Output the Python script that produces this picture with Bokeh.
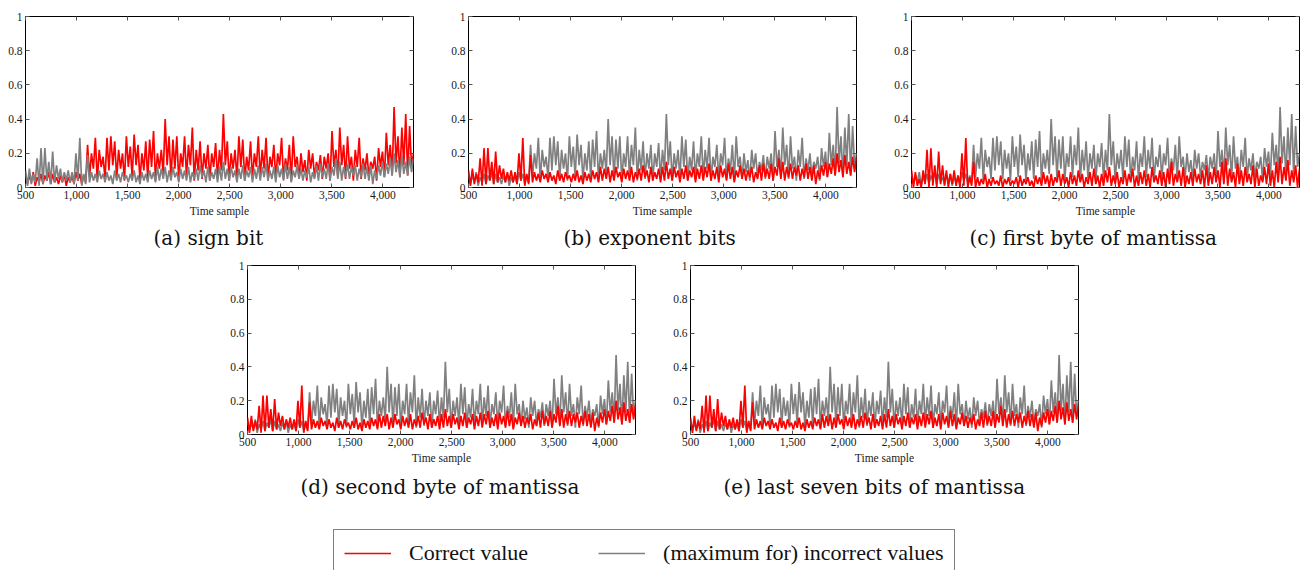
from bokeh.plotting import figure
from bokeh.layouts import column, row
from bokeh.models import (LinearAxis, FixedTicker, NumeralTickFormatter, Title,
                          CustomJSTickFormatter, Legend, LegendItem, Spacer)
from bokeh.embed import file_html
from bokeh.resources import INLINE

# ---------------- data ----------------
# time samples: peak / trough alternate every 19 samples
time_samples = list(range(500, 4301, 19))

# spiky series (max incorrect in b-e, correct value in a) - local peaks
spiky_peaks = [0.08, 0.07, 0.09, 0.06, 0.08, 0.07, 0.09, 0.08, 0.06, 0.07, 0.08, 0.06, 0.07, 0.09, 0.08, 0.07,
               0.25, 0.20, 0.29, 0.22, 0.18, 0.29, 0.30, 0.27, 0.22, 0.20, 0.30, 0.24, 0.31, 0.25, 0.20,
               0.27, 0.28, 0.33, 0.20, 0.22, 0.40, 0.30, 0.28, 0.30, 0.20, 0.30, 0.25, 0.35, 0.22, 0.27,
               0.20, 0.25, 0.20, 0.26, 0.22, 0.43, 0.27, 0.20, 0.22, 0.30, 0.28, 0.18, 0.27, 0.20, 0.30,
               0.22, 0.29, 0.18, 0.25, 0.20, 0.29, 0.17, 0.25, 0.30, 0.18, 0.20, 0.16, 0.22, 0.20, 0.15,
               0.19, 0.18, 0.20, 0.33, 0.22, 0.35, 0.25, 0.30, 0.18, 0.22, 0.29, 0.17, 0.20, 0.15, 0.18,
               0.23, 0.21, 0.32, 0.25, 0.47, 0.30, 0.35, 0.43, 0.36, 0.20]
spiky_troughs = [0.02, 0.03, 0.01, 0.03, 0.02, 0.04, 0.02, 0.03, 0.02, 0.03, 0.01, 0.03, 0.02, 0.04, 0.02, 0.03,
                 0.06, 0.11, 0.04, 0.12, 0.05, 0.10, 0.13, 0.05, 0.11, 0.04, 0.12, 0.06, 0.13, 0.04, 0.10,
                 0.05, 0.12, 0.04, 0.11, 0.08, 0.13, 0.05, 0.11, 0.04, 0.12, 0.06, 0.13, 0.04, 0.10, 0.05,
                 0.11, 0.04, 0.12, 0.05, 0.10, 0.13, 0.04, 0.11, 0.05, 0.12, 0.04, 0.10, 0.05, 0.12, 0.06,
                 0.11, 0.04, 0.12, 0.05, 0.13, 0.05, 0.10, 0.04, 0.12, 0.05, 0.09, 0.04, 0.11, 0.06, 0.10,
                 0.05, 0.11, 0.04, 0.12, 0.06, 0.13, 0.05, 0.11, 0.04, 0.12, 0.05, 0.10, 0.06, 0.11, 0.04,
                 0.12, 0.06, 0.13, 0.07, 0.14, 0.06, 0.13, 0.07, 0.12]

# low series (correct value in b, d, e; max incorrect in a)
low_peaks = [0.10, 0.11, 0.08, 0.17, 0.23, 0.23, 0.15, 0.21, 0.13, 0.11, 0.09, 0.10, 0.09, 0.20, 0.29, 0.08, 0.19,
             0.09, 0.08, 0.10, 0.08, 0.09, 0.07, 0.10, 0.08, 0.09, 0.07, 0.08, 0.10, 0.07, 0.09, 0.08, 0.10, 0.09,
             0.12, 0.11, 0.12, 0.10, 0.12, 0.09, 0.11, 0.10, 0.12, 0.09, 0.11, 0.13, 0.10, 0.12, 0.09, 0.11, 0.12,
             0.15, 0.11, 0.12, 0.10, 0.11, 0.13, 0.10, 0.12, 0.11, 0.13,
             0.12, 0.14, 0.10, 0.12, 0.13, 0.11, 0.14, 0.12, 0.10, 0.13,
             0.11, 0.10, 0.12, 0.09, 0.13, 0.14, 0.11, 0.14, 0.12,
             0.17, 0.15, 0.12, 0.14, 0.12, 0.13, 0.11, 0.14, 0.12, 0.13,
             0.10, 0.13, 0.15, 0.14, 0.17, 0.20, 0.16, 0.19, 0.15, 0.18, 0.17]
low_troughs = [0.01, 0.02, 0.03, 0.01, 0.02, 0.04, 0.02, 0.03, 0.05, 0.03, 0.04, 0.03, 0.02, 0.04, 0.01, 0.02, 0.03,
               0.04, 0.03, 0.05, 0.03, 0.04, 0.02, 0.04, 0.03, 0.05, 0.03, 0.04, 0.03, 0.02, 0.04, 0.03, 0.05, 0.03,
               0.04, 0.05, 0.03, 0.04, 0.06, 0.03, 0.05, 0.04, 0.03, 0.05, 0.04, 0.06, 0.03, 0.04, 0.05, 0.03, 0.04,
               0.05, 0.04, 0.06, 0.03, 0.05, 0.04, 0.06, 0.03, 0.05, 0.04, 0.06, 0.04, 0.05, 0.03, 0.06, 0.04, 0.05,
               0.03, 0.06, 0.05, 0.04, 0.06, 0.03, 0.05, 0.04, 0.06, 0.05, 0.04, 0.07, 0.05, 0.04, 0.06, 0.05, 0.07,
               0.04, 0.06, 0.05, 0.04, 0.02,
               0.05, 0.07, 0.06, 0.08, 0.07, 0.09, 0.06, 0.08, 0.07, 0.09]

# first byte of mantissa: correct value
mant1_peaks = [0.10, 0.09, 0.05, 0.10, 0.22, 0.23, 0.13, 0.21, 0.13, 0.10, 0.08, 0.10, 0.07, 0.20, 0.29, 0.06, 0.15,
               0.06, 0.05, 0.08, 0.05, 0.06, 0.04, 0.07, 0.05, 0.06, 0.04, 0.06, 0.07, 0.05, 0.06, 0.04, 0.07, 0.06,
               0.09, 0.07, 0.08, 0.06, 0.10, 0.08, 0.06, 0.09, 0.07, 0.10, 0.08, 0.06, 0.09, 0.11, 0.07, 0.08, 0.10,
               0.12, 0.07, 0.09, 0.06, 0.10, 0.08, 0.11, 0.07, 0.09, 0.10,
               0.08, 0.12, 0.07, 0.10, 0.09, 0.11, 0.15, 0.08, 0.10, 0.12, 0.07, 0.09, 0.11, 0.08, 0.10,
               0.13, 0.09, 0.12, 0.10, 0.15, 0.17, 0.11, 0.09, 0.14, 0.10, 0.12, 0.08, 0.13, 0.11, 0.07,
               0.12, 0.14, 0.10, 0.15, 0.18, 0.12, 0.16, 0.10, 0.13, 0.11]
mant1_troughs = [0.00, 0.01, 0.00, 0.02, 0.00, 0.01, 0.00, 0.02, 0.01, 0.00, 0.02, 0.01, 0.00, 0.01, 0.00, 0.01, 0.00,
                 0.01, 0.02, 0.00, 0.01, 0.02, 0.01, 0.00, 0.02, 0.01, 0.02, 0.00, 0.01, 0.02, 0.01, 0.00, 0.02, 0.01,
                 0.02, 0.00, 0.01, 0.03, 0.01, 0.02, 0.00, 0.02, 0.01, 0.03, 0.00, 0.02, 0.01, 0.02, 0.00, 0.01, 0.03,
                 0.01, 0.02, 0.00, 0.02, 0.01, 0.03, 0.00, 0.01, 0.02, 0.01, 0.00, 0.03, 0.02, 0.01, 0.00, 0.02, 0.01,
                 0.03, 0.01, 0.00, 0.02, 0.01, 0.03, 0.02, 0.00, 0.01, 0.02, 0.03, 0.00, 0.02, 0.01, 0.03, 0.00, 0.02,
                 0.01, 0.03, 0.02, 0.00, 0.01, 0.03, 0.02, 0.01, 0.00, 0.03, 0.02, 0.04, 0.01, 0.03, 0.00]

captions = ["(a) sign bit", "(b) exponent bits", "(c) first byte of mantissa",
            "(d) second byte of mantissa", "(e) last seven bits of mantissa"]
legend_labels = ["Correct value", "(maximum for) incorrect values"]
x_ticks = [500, 1000, 1500, 2000, 2500, 3000, 3500, 4000]
y_ticks = [0, 0.2, 0.4, 0.6, 0.8, 1]

RED = "#ff0000"
GRAY = "#808080"
TICK_FONT = "Liberation Serif"
DATA_LW = 1.7


def zigzag(peaks, troughs):
    ys = []
    for k in range(len(troughs)):
        ys.append(peaks[k])
        ys.append(troughs[k])
    ys.append(peaks[-1])
    return ys


def style_axis(ax, labels=True):
    ax.axis_line_color = None
    ax.major_tick_in = 4
    ax.major_tick_out = 0
    ax.minor_tick_line_color = None
    ax.major_tick_line_color = "#555555"
    ax.major_tick_line_width = 1
    if labels:
        ax.major_label_text_font = TICK_FONT
        ax.major_label_text_font_size = "11.5px"
        ax.major_label_text_color = "#1a1a1a"
    else:
        ax.major_label_text_font_size = "1px"
        ax.major_label_text_color = None
        ax.major_label_standoff = 0


def panel(width, height, top, bottom, right, correct, wrong, caption, cap_offset, cap_standoff, red_first):
    p = figure(width=width, height=height, x_range=(500, 4300), y_range=(0, 1),
               output_backend="svg", toolbar_location=None,
               min_border_left=25, min_border_right=right,
               min_border_top=top, min_border_bottom=bottom)
    p.xgrid.grid_line_color = None
    p.ygrid.grid_line_color = None
    p.outline_line_color = "black"
    p.outline_line_width = 1
    p.background_fill_color = "white"
    p.border_fill_color = "white"

    xa = p.xaxis[0]
    ya = p.yaxis[0]
    style_axis(xa)
    style_axis(ya)
    xa.ticker = FixedTicker(ticks=x_ticks)
    xa.formatter = NumeralTickFormatter(format="0,0")
    xa.major_label_standoff = 3
    xa.axis_label = "Time sample"
    xa.axis_label_text_font = TICK_FONT
    xa.axis_label_text_font_size = "11.5px"
    xa.axis_label_text_font_style = "normal"
    xa.axis_label_text_color = "#1a1a1a"
    xa.axis_label_standoff = 3
    ya.ticker = FixedTicker(ticks=y_ticks)
    ya.formatter = CustomJSTickFormatter(code="return (tick == 0 || tick == 1) ? tick.toFixed(0) : tick.toFixed(1);")
    ya.major_label_standoff = 3

    ra = LinearAxis(ticker=FixedTicker(ticks=y_ticks))
    style_axis(ra, labels=False)
    p.add_layout(ra, "right")
    ta = LinearAxis(ticker=FixedTicker(ticks=x_ticks))
    style_axis(ta, labels=False)
    p.add_layout(ta, "above")

    cy = zigzag(*correct)
    wy = zigzag(*wrong)
    if red_first:
        p.line(time_samples, cy, line_color=RED, line_width=DATA_LW)
        p.line(time_samples, wy, line_color=GRAY, line_width=DATA_LW)
    else:
        p.line(time_samples, wy, line_color=GRAY, line_width=DATA_LW)
        p.line(time_samples, cy, line_color=RED, line_width=DATA_LW)

    t = Title(text=caption, align="left", offset=cap_offset, standoff=cap_standoff,
              text_font="DejaVu Serif", text_font_size="20px",
              text_font_style="normal", text_color="#111111")
    p.add_layout(t, "below")
    return p


spiky = (spiky_peaks, spiky_troughs)
low = (low_peaks, low_troughs)
mant1 = (mant1_peaks, mant1_troughs)

fa = panel(443, 255, 16, 68, 30, spiky, low, captions[0], 128, 9, True)
fb = panel(443, 255, 16, 68, 30, low, spiky, captions[1], 95, 9, False)
fc = panel(415, 255, 16, 68, 2, mant1, spiky, captions[2], 58, 9, False)
fd = panel(443, 250, 10, 70, 30, low, spiky, captions[3], 53, 13, False)
fe = panel(443, 250, 10, 70, 30, low, spiky, captions[4], 33, 13, False)

lf = figure(width=1301, height=65, x_range=(0, 1), y_range=(0, 1),
            x_axis_type=None, y_axis_type=None, output_backend="svg",
            toolbar_location=None, min_border=0)
lf.outline_line_color = None
lf.xgrid.grid_line_color = None
lf.ygrid.grid_line_color = None
r1 = lf.line(x=[5, 6], y=[5, 6], line_color=RED, line_width=1.3)
r2 = lf.line(x=[5, 6], y=[5, 6], line_color=GRAY, line_width=1.3)
leg = Legend(items=[LegendItem(label=legend_labels[0], renderers=[r1]),
                    LegendItem(label=legend_labels[1], renderers=[r2])],
             orientation="horizontal", location=(333, -7))
leg.padding = 10
leg.margin = 0
leg.spacing = 70
leg.glyph_width = 47
leg.glyph_height = 20
leg.label_standoff = 18
leg.label_text_font = "Liberation Serif"
leg.label_text_font_size = "22px"
leg.label_text_color = "#111111"
leg.border_line_color = "black"
leg.border_line_width = 1
leg.background_fill_color = "white"
leg.background_fill_alpha = 1
lf.add_layout(leg)

layout = column(row(fa, fb, fc), row(Spacer(width=222, height=250), fd, fe), lf)

open("out.html", "w").write(file_html(layout, INLINE))
